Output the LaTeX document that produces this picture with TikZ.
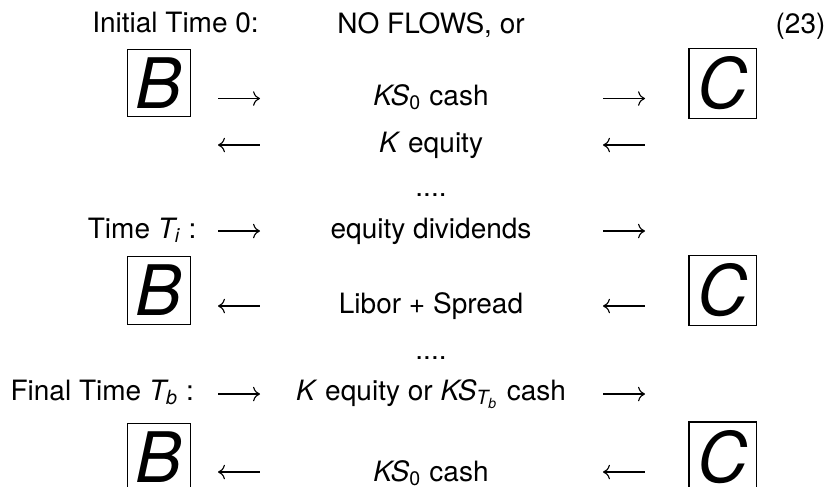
\documentclass[tikz,border=0pt]{standalone}
\usepackage{fontspec}
\setmainfont{TeX Gyre Heros}
\usepackage{tikz}
\usetikzlibrary{arrows.meta}

\begin{document}
\begin{tikzpicture}[
    x=0.357143pt, y=-0.357143pt,
    lbl/.style={inner sep=0pt},
    party/.style={draw, line width=0.4pt, inner sep=3pt, font=\Huge\itshape},
    fwd/.style={line width=0.4pt, -{Computer Modern Rightarrow}},
    bwd/.style={line width=0.4pt, {Computer Modern Rightarrow}-},
  ]
  \useasboundingbox (0,0) rectangle (838,486);
  % arrow ends, left and right column
  \foreach \n/\y in {1/98.5, 2/145, 3/231, 4/306, 5/394, 6/472} {
    \coordinate (lw\n) at (218,\y);
    \coordinate (le\n) at (260,\y);
    \coordinate (rw\n) at (603,\y);
    \coordinate (re\n) at (645,\y);
  }
  % header
  \node[lbl, anchor=base west] (init) at (91.7,32.5) {Initial Time 0:};
  \node[lbl, anchor=base] (noflow) at (431,33) {NO FLOWS, or};
  \node[lbl, anchor=base east] (eqno) at (826,33) {(23)};
  % time 0
  \node[party] (b1) at (159,83) {B};
  \node[party] (c1) at (722.5,83.5) {C};
  \node[lbl, anchor=base] (cash0) at (431,105.5) {\textit{KS}\textsubscript{0} cash};
  \node[lbl, anchor=base] (eq0) at (431,152) {\textit{K} equity};
  \draw[fwd] (lw1) -- (le1);
  \draw[fwd] (rw1) -- (re1);
  \draw[bwd] (lw2) -- (le2);
  \draw[bwd] (rw2) -- (re2);
  \node[lbl, anchor=base] (dots1) at (431,196) {....};
  % time T_i
  \node[lbl, anchor=base west] (ti) at (87.3,238) {Time {\itshape T}\textsubscript{\itshape i} :};
  \node[lbl, anchor=base] (div) at (431,238) {equity dividends};
  \node[party] (b2) at (159,290.5) {B};
  \node[party] (c2) at (722.5,290.5) {C};
  \node[lbl, anchor=base] (libor) at (431,313) {Libor + Spread};
  \draw[fwd] (lw3) -- (le3);
  \draw[fwd] (rw3) -- (re3);
  \draw[bwd] (lw4) -- (le4);
  \draw[bwd] (rw4) -- (re4);
  \node[lbl, anchor=base] (dots2) at (431,359) {....};
  % final time T_b
  \node[lbl, anchor=base west] (tb) at (10,400) {Final Time {\itshape T}\textsubscript{\itshape b} :};
  \node[lbl, anchor=base] (settle) at (431,400) {\textit{K} equity or {\itshape KS}\textsubscript{{\itshape T}\textsubscript{\itshape b}} cash};
  \node[party] (b3) at (159,457) {B};
  \node[party] (c3) at (722.5,457) {C};
  \node[lbl, anchor=base] (cash1) at (431,481) {\textit{KS}\textsubscript{0} cash};
  \draw[fwd] (lw5) -- (le5);
  \draw[fwd] (rw5) -- (re5);
  \draw[bwd] (lw6) -- (le6);
  \draw[bwd] (rw6) -- (re6);
\end{tikzpicture}
\end{document}
